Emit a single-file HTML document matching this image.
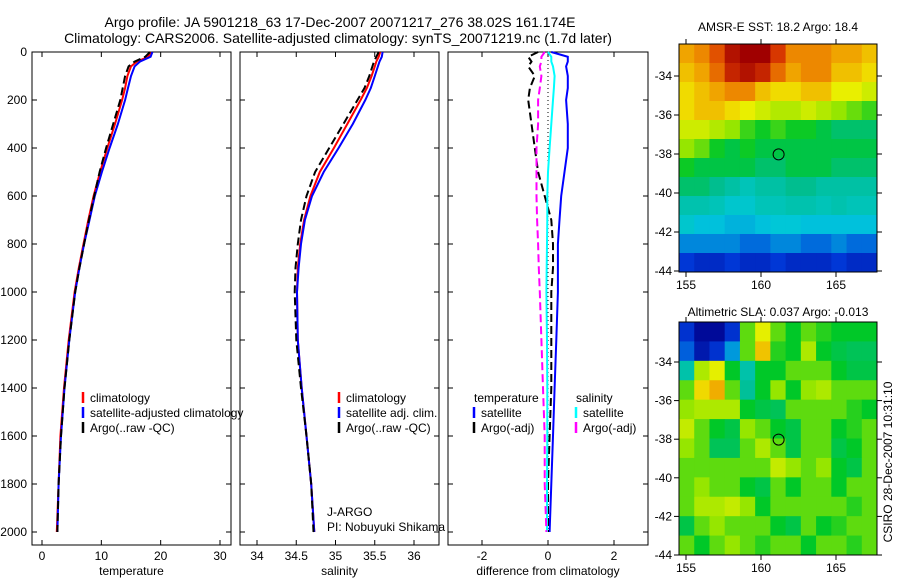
<!DOCTYPE html>
<html><head><meta charset="utf-8"><style>
body{margin:0;background:#fff}
svg{display:block;font-family:"Liberation Sans",sans-serif}
</style></head><body>
<svg id="fig" width="900" height="580" viewBox="0 0 900 580" xmlns="http://www.w3.org/2000/svg">
<rect width="900" height="580" fill="#fff"/>
<text x="340" y="27" font-size="14" text-anchor="middle">Argo profile: JA 5901218_63 17-Dec-2007 20071217_276 38.02S 161.174E</text>
<text x="338" y="43" font-size="14" text-anchor="middle">Climatology: CARS2006. Satellite-adjusted climatology: synTS_20071219.nc (1.7d later)</text>
<text x="778" y="31" font-size="12" text-anchor="middle">AMSR-E SST: 18.2 Argo: 18.4</text>
<text x="778" y="316" font-size="12" text-anchor="middle">Altimetric SLA: 0.037 Argo: -0.013</text>
<text transform="translate(892,462) rotate(-90)" font-size="12" text-anchor="middle">CSIRO 28-Dec-2007 10:31:10</text>
<g id="layer"></g>
</svg>
<script>
// ---- profile data ----
const depths = [0,20,40,60,100,150,200,300,400,500,600,700,800,900,1000,1200,1400,1600,1800,2000];
const tempClim = [18.3,17.9,16.0,15.0,14.4,14.0,13.5,12.3,11.0,9.8,8.7,7.8,7.0,6.2,5.5,4.5,3.7,3.1,2.8,2.5];
const tempSat  = [18.6,18.3,16.5,15.6,15.0,14.5,14.0,12.8,11.4,10.1,8.9,8.0,7.1,6.3,5.6,4.6,3.8,3.2,2.8,2.6];
const tempArgo = [18.2,17.4,15.6,14.6,14.0,13.6,13.2,12.0,10.8,9.7,8.8,7.9,7.1,6.3,5.6,4.6,3.8,3.2,2.8,2.6];
const salClim = [35.57,35.55,35.52,35.50,35.46,35.40,35.32,35.15,34.98,34.80,34.68,34.60,34.55,34.52,34.51,34.52,34.57,34.63,34.69,34.73];
const salSat  = [35.60,35.59,35.56,35.54,35.50,35.45,35.38,35.22,35.04,34.85,34.70,34.61,34.56,34.53,34.51,34.52,34.57,34.63,34.69,34.73];
const salArgo = [35.55,35.52,35.49,35.47,35.43,35.37,35.28,35.10,34.92,34.74,34.63,34.56,34.52,34.49,34.48,34.50,34.56,34.63,34.69,34.72];
const dTSat  = [0.1,0.6,0.6,0.55,0.6,0.6,0.55,0.6,0.6,0.5,0.4,0.35,0.3,0.3,0.3,0.25,0.2,0.15,0.1,0.05];
const dTArgo = [-0.3,-0.6,-0.5,-0.6,-0.4,-0.55,-0.6,-0.5,-0.4,-0.3,-0.1,0.1,0.15,0.15,0.1,0.1,0.1,0.05,0.0,0.0];
const dSSat  = [0.0,0.1,0.1,0.15,0.2,0.18,0.15,0.1,0.05,0.0,-0.02,-0.02,-0.03,-0.04,-0.05,-0.03,-0.02,-0.02,-0.03,-0.03];
const dSArgo = [-0.1,-0.2,-0.2,-0.25,-0.2,-0.25,-0.3,-0.3,-0.35,-0.35,-0.35,-0.33,-0.3,-0.28,-0.25,-0.2,-0.15,-0.1,-0.1,-0.05];
const tempTicks = [0,10,20,30];
const salTicks = [34,34.5,35,35.5,36];
const diffTicks = [-2,0,2];
const depthTicks = [0,200,400,600,800,1000,1200,1400,1600,1800,2000];
// ---- map data ----
const sstLonTicks = [155,160,165];
const sstLatTicks = [-34,-36,-38,-40,-42,-44];
const sst = [
[19.6,19.8,20.2,20.8,21.0,21.0,20.4,19.8,19.8,19.8,19.6,19.6,19.4],
[19.4,19.6,20.0,20.6,20.8,20.6,20.0,19.6,19.8,19.8,19.4,19.4,19.2],
[19.2,19.4,19.6,19.8,19.8,19.4,19.2,19.2,19.4,19.4,19.0,19.0,18.8],
[19.2,19.4,19.4,19.2,19.0,18.8,18.6,18.6,18.8,18.6,18.4,18.2,18.0],
[18.8,18.8,18.6,18.4,18.0,17.8,18.0,17.8,17.8,17.6,17.4,17.4,17.4],
[18.4,18.2,17.8,17.6,17.8,17.6,17.6,17.6,17.6,17.6,17.6,17.6,17.6],
[17.8,17.6,17.6,17.6,17.6,17.4,17.4,17.6,17.6,17.6,17.4,17.4,17.4],
[17.4,17.4,17.2,17.0,16.8,17.0,17.0,17.2,17.2,17.0,17.0,17.0,17.0],
[16.9,16.9,16.8,16.6,16.6,16.8,16.8,16.9,16.9,16.8,16.9,16.8,16.8],
[16.6,16.4,16.4,16.3,16.3,16.4,16.5,16.5,16.4,16.4,16.4,16.4,16.4],
[16.0,16.0,16.0,16.0,15.8,15.8,16.0,16.0,15.8,15.8,16.0,15.8,15.8],
[15.4,15.2,15.2,15.4,15.2,15.2,15.4,15.2,15.2,15.2,15.4,15.2,15.2]];
const sla = [
[-0.3,-0.38,-0.38,-0.3,0.05,0.15,0.05,0.0,0.05,0.02,0.0,0.0,0.0],
[-0.25,-0.35,-0.3,-0.2,0.05,0.2,0.02,0.0,0.1,0.0,-0.02,-0.03,-0.03],
[-0.1,0.1,0.15,0.0,-0.1,0.0,0.0,0.05,0.05,0.05,0.0,-0.02,-0.02],
[0.05,0.18,0.22,0.05,-0.08,0.0,0.08,0.0,0.08,0.1,0.05,0.05,0.05],
[0.08,0.1,0.1,0.1,0.0,-0.02,-0.03,0.05,0.05,0.05,0.05,0.02,0.0],
[0.12,0.05,0.0,-0.02,0.08,0.05,0.0,-0.02,0.05,0.05,0.0,0.02,0.05],
[0.08,0.05,-0.03,-0.03,0.05,0.1,0.05,-0.02,0.05,0.05,-0.02,0.0,0.05],
[0.05,0.05,0.05,0.05,0.05,0.05,0.12,0.08,0.05,0.08,0.0,-0.02,0.05],
[0.05,0.08,0.05,0.05,0.0,-0.02,0.05,0.0,0.05,0.05,0.0,0.05,0.05],
[0.05,0.1,0.1,0.12,0.08,0.0,0.05,0.05,0.05,0.05,0.05,0.02,0.05],
[-0.02,0.05,0.08,0.05,0.05,0.05,0.0,-0.02,0.05,0.0,0.02,0.05,0.05],
[0.05,0.0,0.05,0.08,0.05,0.02,0.05,0.05,0.0,0.05,0.05,0.02,0.05]];
const argoLon = 161.174, argoLat = -38.02;

const NS='http://www.w3.org/2000/svg';
const L=document.getElementById('layer');
function mk(t,a,p){const e=document.createElementNS(NS,t);for(const k in a)e.setAttribute(k,a[k]);(p||L).appendChild(e);return e;}
function lin(d0,d1,r0,r1){return v=>r0+(v-d0)*(r1-r0)/(d1-d0);}
const yD=lin(0,2000,52,532);

function panel(name,x0,x1,xs,ticks,label,series){
  const g=mk('g',{});
  
  
  mk('rect',{x:x0,y:52,width:x1-x0,height:493,fill:'none',stroke:'#000','stroke-width':1},g);
  ticks.forEach(t=>{const x=xs(t);
    mk('line',{x1:x,x2:x,y1:545,y2:540,stroke:'#000'},g);
    mk('line',{x1:x,x2:x,y1:52,y2:57,stroke:'#000'},g);
    const tx=mk('text',{x:x,y:560,'font-size':12,'text-anchor':'middle'},g);tx.textContent=t;
    
    
  });
  depthTicks.forEach(d=>{const y=yD(d);
    mk('line',{x1:x0,x2:x0+5,y1:y,y2:y,stroke:'#000'},g);
    mk('line',{x1:x1,x2:x1-5,y1:y,y2:y,stroke:'#000'},g);
  });
  const lb=mk('text',{x:(x0+x1)/2,y:575,'font-size':12,'text-anchor':'middle'},g);lb.textContent=label;
  
  
  series.forEach(s=>{
    const pts=depths.map((d,i)=>xs(s.v[i]).toFixed(1)+','+yD(d).toFixed(1)).join(' ');
    const p=mk('polyline',{points:pts,fill:'none',stroke:s.c,'stroke-width':s.w||2,'stroke-dasharray':s.dash||'none'},g);
    
    
  });
  return g;
}
depthTicks.forEach(d=>{const t=mk('text',{x:27,y:yD(d)+4,'font-size':12,'text-anchor':'end'});t.textContent=d;
  
  });
const xT=lin(0,30,42,220), xS=lin(34,36,257,414), xDf=lin(-2,2,482,614);
panel('temperature',32,231,xT,tempTicks,'temperature',[
 {n:'temp-climatology',v:tempClim,c:'#f00'},{n:'temp-satellite',v:tempSat,c:'#00f'},{n:'temp-argo',v:tempArgo,c:'#000',dash:'8,4'}]);
panel('salinity',240,439,xS,salTicks,'salinity',[
 {n:'sal-climatology',v:salClim,c:'#f00'},{n:'sal-satellite',v:salSat,c:'#00f'},{n:'sal-argo',v:salArgo,c:'#000',dash:'8,4'}]);
const zero=depths.map(()=>0);
panel('difference',448,648,xDf,diffTicks,'difference from climatology',[
 {n:'zero-line',v:zero,c:'#000',w:1,dash:'1,3'},
 {n:'diff-temp-satellite',v:dTSat,c:'#00f'},{n:'diff-temp-argo',v:dTArgo,c:'#000',dash:'8,4'},
 {n:'diff-sal-satellite',v:dSSat,c:'#0ff'},{n:'diff-sal-argo',v:dSArgo,c:'#f0f',dash:'8,4'}]);

function legend(name,x,y,items){
  const g=mk('g',{});
  
  
  items.forEach((it,i)=>{const yy=y+i*15;
    if(it.c) mk('line',{x1:x,x2:x,y1:yy-10,y2:yy+1,stroke:it.c,'stroke-width':2.5},g);
    const t=mk('text',{x:x+(it.c?7:0),y:yy,'font-size':12},g);t.textContent=it.t;});
}
legend('temp-legend',83,402,[{c:'#f00',t:'climatology'},{c:'#00f',t:'satellite-adjusted climatology'},{c:'#000',t:'Argo(..raw -QC)'}]);
legend('sal-legend',339,402,[{c:'#f00',t:'climatology'},{c:'#00f',t:'satellite adj. clim.'},{c:'#000',t:'Argo(..raw -QC)'}]);
legend('diff-temp-legend',474,402,[{t:'temperature'},{c:'#00f',t:'satellite'},{c:'#000',t:'Argo(-adj)'}]);
legend('diff-sal-legend',576,402,[{t:'   salinity'},{c:'#0ff',t:'satellite'},{c:'#f0f',t:'Argo(-adj)'}]);
const ja=mk('text',{x:327,y:516,'font-size':12});ja.textContent='J-ARGO';

const pi=mk('text',{x:327,y:531,'font-size':12});pi.textContent='PI: Nobuyuki Shikama';


const cmapStops=[[0,[0,0,140]],[0.15,[0,60,220]],[0.3,[0,200,220]],[0.42,[0,190,140]],[0.5,[0,200,40]],[0.6,[150,230,0]],[0.7,[240,240,0]],[0.8,[240,150,0]],[0.9,[220,60,0]],[1,[160,0,0]]];
function cmap(v){v=Math.max(0,Math.min(1,v));
  for(let i=1;i<cmapStops.length;i++){const [a,ca]=cmapStops[i-1],[b,cb]=cmapStops[i];
    if(v<=b){const f=(v-a)/(b-a);return `rgb(${ca.map((c,k)=>Math.round(c+(cb[k]-c)*f)).join(',')})`;}}
  return 'rgb(160,0,0)';}
function map(name,x0,x1,y0,y1,lonA,lonB,latA,latB,grid,vmin,vmax,latTicks){
  const g=mk('g',{});
  
  
  const xs=lin(155,165,lonA,lonB), ys=lin(latA[0],latA[1],latB[0],latB[1]);
  const lonL=155+(x0-lonA)*10/(lonB-lonA), lonR=155+(x1-lonA)*10/(lonB-lonA);
  const latT=latA[0]+(y0-latB[0])*(latA[1]-latA[0])/(latB[1]-latB[0]);
  const latBt=latA[0]+(y1-latB[0])*(latA[1]-latA[0])/(latB[1]-latB[0]);
  const nr=grid.length,nc=grid[0].length,dLon=(lonR-lonL)/nc,dLat=(latT-latBt)/nr;
  grid.forEach((row,i)=>row.forEach((v,j)=>{
    const xa=xs(lonL+j*dLon),xb=xs(lonL+(j+1)*dLon),ya=ys(latT-i*dLat),yb=ys(latT-(i+1)*dLat);
    const r=mk('rect',{x:xa,y:ya,width:xb-xa+0.5,height:yb-ya+0.5,fill:cmap((v-vmin)/(vmax-vmin))},g);
    
    
  }));
  mk('rect',{x:x0,y:y0,width:x1-x0,height:y1-y0,fill:'none',stroke:'#000'},g);
  sstLonTicks.forEach(t=>{const x=xs(t);
    mk('line',{x1:x,x2:x,y1:y1,y2:y1+5,stroke:'#000'},g);mk('line',{x1:x,x2:x,y1:y0,y2:y0-5,stroke:'#000'},g);
    const tx=mk('text',{x:x,y:y1+17,'font-size':12,'text-anchor':'middle'},g);tx.textContent=t;});
  latTicks.forEach(t=>{const y=ys(t);
    mk('line',{x1:x0,x2:x0-5,y1:y,y2:y,stroke:'#000'},g);mk('line',{x1:x1,x2:x1+5,y1:y,y2:y,stroke:'#000'},g);
    const tx=mk('text',{x:x0-7,y:y+4,'font-size':12,'text-anchor':'end'},g);tx.textContent=t;});
  const c=mk('circle',{cx:xs(argoLon),cy:ys(argoLat),r:5.5,fill:'none',stroke:'#000','stroke-width':1},g);
  
  
}
map('sst-map',679,877,44,272,686,836,[-34,-44],[76,271],sst,14.5,21,sstLatTicks);
map('sla-map',679,877,322,555,686,836,[-34,-44],[362,555],sla,-0.4,0.4,sstLatTicks);
</script>
</body></html>
